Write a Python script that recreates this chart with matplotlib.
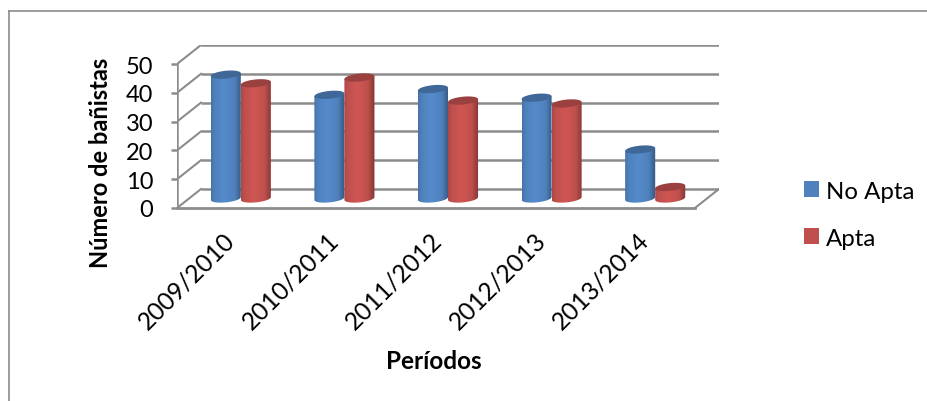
import numpy as np
import matplotlib
matplotlib.use('Agg')
import matplotlib.pyplot as plt
from matplotlib.patches import Patch, Polygon
from matplotlib.transforms import ScaledTranslation

plt.rcParams['font.family'] = ['Lato', 'DejaVu Sans']

# Datos
periodos = ['2009/2010', '2010/2011', '2011/2012', '2012/2013', '2013/2014']
no_apta = [43, 36, 38, 35, 17]
apta = [40, 42, 34, 33, 4]
y_ticks = [0, 10, 20, 30, 40, 50]

AZUL = '#4f81bd'
ROJO = '#c0504d'
GRIS = '#8c8c8c'

# profundidad de la caja 3D, en unidades de datos
DX = 0.232
DY = 6.6
ANCHO = 0.29

fig = plt.figure(figsize=(9.28, 4.02), dpi=100)
W, H = 928, 402
# la caja va de x=177 a 719 y de y=209 a 46 (pixeles)
ax = fig.add_axes([177 / W, 1 - 209 / H, 542 / W, 163 / H])
ax.patch.set_alpha(0)
xlim = (0, 5 + DX)
ylim = (0, 50 + DY)


def degradado(color):
    base = np.array(matplotlib.colors.to_rgb(color))
    t = np.linspace(0, 1, 64)
    k = np.interp(t, [0, 0.12, 0.42, 0.78, 0.94, 1], [0.9, 1.0, 1.08, 0.99, 0.76, 0.68])
    return np.clip(base[None, None, :] * k[None, :, None], 0, 1)


def cilindro(x0, valor, color):
    # x0 es el centro del cilindro, la base queda a media profundidad
    a = ANCHO / 2
    b = 1.35
    c = 0.5
    y0 = DY / 2
    t = np.linspace(0, np.pi, 40)
    abajo_x = x0 - a * np.cos(t)
    abajo_y = y0 - b * np.sin(t) - c * np.cos(t)
    top = y0 + valor
    arriba_x = x0 + a * np.cos(t)
    arriba_y = top + c * np.cos(t)
    verts = np.vstack([np.column_stack([abajo_x, abajo_y]),
                       np.column_stack([arriba_x, arriba_y])])
    cuerpo = Polygon(verts, closed=True, facecolor='none', edgecolor='none')
    ax.add_patch(cuerpo)
    im = ax.imshow(degradado(color), extent=(x0 - a, x0 + a, y0 - 3, top + 3),
                   aspect='auto', interpolation='bilinear', zorder=3)
    im.set_clip_path(cuerpo)
    t2 = np.linspace(0, 2 * np.pi, 60)
    tapa = np.column_stack([x0 + a * np.cos(t2),
                            top + b * np.sin(t2) + c * np.cos(t2)])
    oscuro = np.array(matplotlib.colors.to_rgb(color)) * 0.8
    ax.add_patch(Polygon(tapa, closed=True, facecolor=oscuro, edgecolor='none', zorder=3))


# paredes de la caja
for v in y_ticks:
    ax.plot([DX, 5 + DX], [v + DY, v + DY], color=GRIS, lw=1.8, zorder=1, solid_capstyle='butt')
    ax.plot([0, DX], [v, v + DY], color=GRIS, lw=1.5, zorder=1)
ax.plot([0, 5], [0, 0], color=GRIS, lw=2, zorder=2, clip_on=False)
ax.plot([5, 5 + DX], [0, DY], color=GRIS, lw=1.5, zorder=1)
ax.plot([0, 0], [0, 50], color=GRIS, lw=1.8, zorder=2)

pos = np.arange(5) + 0.5
for i in range(5):
    cilindro(pos[i] + DX / 2 - ANCHO / 2, no_apta[i], AZUL)
    cilindro(pos[i] + DX / 2 + ANCHO / 2, apta[i], ROJO)

ax.set_xlim(xlim)
ax.set_ylim(ylim)
for s in ax.spines.values():
    s.set_visible(False)

ax.set_yticks(y_ticks)
ax.set_yticklabels([str(v) for v in y_ticks], fontsize=17)
ax.tick_params(axis='y', length=4, width=1.8, color=GRIS, pad=13)
ax.set_xticks(pos)
ax.set_xticklabels(periodos, rotation=45, ha='right', rotation_mode='anchor', fontsize=17.7)
ax.tick_params(axis='x', length=0, pad=14)
mover = ScaledTranslation(-6 / 100, 0, fig.dpi_scale_trans)
for lab in ax.get_xticklabels():
    lab.set_transform(lab.get_transform() + mover)

ax.set_ylabel('Número de bañistas', fontsize=17, fontweight='bold')
ax.yaxis.set_label_coords(-0.12, 0.28)
ax.set_xlabel('Períodos', fontsize=17.5, fontweight='bold')
ax.xaxis.set_label_coords(0.474, -0.865)

leg = fig.legend(handles=[Patch(facecolor=AZUL, edgecolor='none', label='No Apta'),
                          Patch(facecolor=ROJO, edgecolor='none', label='Apta')],
                 loc='upper left', bbox_to_anchor=(782 / W, 1 - 160 / H), frameon=False,
                 fontsize=17.3, handlelength=0.62, handleheight=0.62, handletextpad=0.3,
                 labelspacing=1.08)

# marco exterior
fig.add_artist(plt.Line2D([9.5 / W, 9.5 / W], [0, 1 - 11.5 / H], color=GRIS, lw=1.2))
fig.add_artist(plt.Line2D([9.5 / W, 1], [1 - 11.5 / H, 1 - 11.5 / H], color=GRIS, lw=1.2))

fig.savefig('out.png', dpi=100)
